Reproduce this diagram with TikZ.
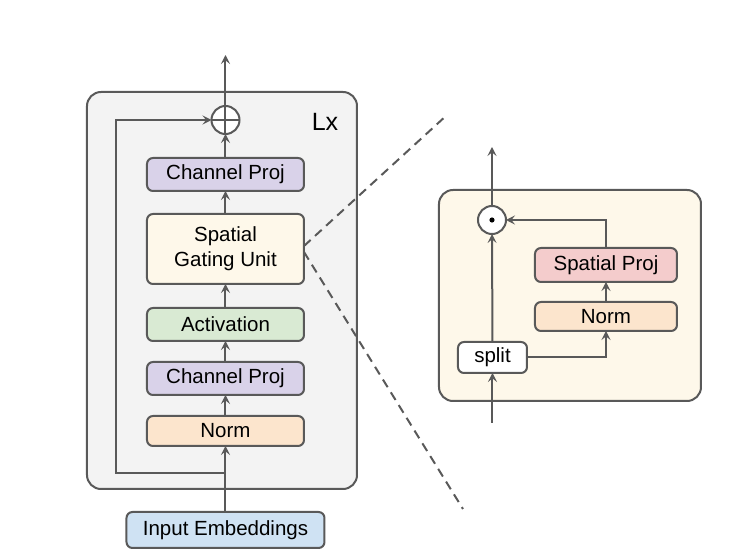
\documentclass[tikz,border=0pt]{standalone}
\usepackage{fontspec}
\setmainfont{Liberation Sans}
\usepackage{tikz}
\usetikzlibrary{arrows.meta,positioning,calc}
\definecolor{linegray}{HTML}{595959}
\definecolor{layerfill}{HTML}{F3F3F3}
\definecolor{creamfill}{HTML}{FEF8EA}
\definecolor{projpurple}{HTML}{D9D2E9}
\definecolor{actgreen}{HTML}{D9EAD3}
\definecolor{normorange}{HTML}{FCE5CD}
\definecolor{embblue}{HTML}{CFE2F3}
\definecolor{spatialred}{HTML}{F4CCCC}
\tikzset{
  block/.style={rounded corners=3pt, draw=linegray, line width=1pt, align=center, inner sep=0pt, outer sep=0pt,
    minimum width=78.5pt, minimum height=16.5pt, font=\fontsize{10.25}{12.5}\selectfont},
  container/.style={rounded corners=7pt, draw=linegray, line width=1pt, inner sep=0pt, outer sep=0pt},
  op/.style={circle, draw=linegray, line width=1pt, fill=white, minimum size=14pt, inner sep=0pt, outer sep=0pt},
  line/.style={-{Stealth[length=4.5pt,width=4.5pt,inset=1.8pt]}, line width=1pt, draw=linegray},
  zoomline/.style={line width=1pt, draw=linegray, dash pattern=on 4.5pt off 3pt}
}
\begin{document}
\begin{tikzpicture}[x=0.5pt, y=-0.5pt]
  \useasboundingbox (0,0) rectangle (736,556);

  % gMLP layer
  \node[container, fill=layerfill, minimum width=135pt, minimum height=198.5pt] (layer) at (222,290.5) {};
  \node[block, fill=normorange, minimum height=15pt] (norm) at (225.5,431) {Norm};
  \node[block, fill=projpurple, above=10.5pt of norm] (chanB) {Channel Proj};
  \node[block, fill=actgreen, above=10.5pt of chanB] (act) {Activation};
  \node[block, fill=creamfill, minimum height=35pt, above=12pt of act] (sgu) {Spatial\\Gating Unit};
  \node[block, fill=projpurple, above=11.5pt of sgu] (chanA) {Channel Proj};
  \node[op, above=12pt of chanA] (plus) {};
  \draw[linegray, line width=1pt] (plus.north) -- (plus.south) (plus.west) -- (plus.east);
  \node[block, fill=embblue, minimum width=99pt, minimum height=18pt, below=33pt of norm] (input) {Input Embeddings};
  \node[font=\fontsize{12.5}{14}\selectfont] (lx) at (325,122) {Lx};
  \coordinate (out) at (225.5,55);
  \coordinate (skip) at (225.5,473);

  \draw[line] (input) -- (norm);
  \draw[line] (norm) -- (chanB);
  \draw[line] (chanB) -- (act);
  \draw[line] (act) -- (sgu);
  \draw[line] (sgu) -- (chanA);
  \draw[line] (chanA) -- (plus);
  \draw[line] (plus) -- (out);
  \draw[line] (skip) -- ++(-109.5,0) |- (plus.west);

  % Spatial gating unit detail
  \node[container, fill=creamfill, minimum width=131pt, minimum height=105.5pt] (gate) at (570,295.5) {};
  \node[op] (odot) at (492,220) {};
  \fill[black] (odot) circle (1.3pt);
  \node[block, fill=spatialred, minimum width=71pt, minimum height=17pt] (sproj) at (606,265) {Spatial Proj};
  \node[block, fill=normorange, minimum width=71pt, minimum height=14.5pt, below=10pt of sproj] (snorm) {Norm};
  \node[block, fill=white, minimum width=34.5pt, minimum height=15.5pt] (split) at (492.5,357.5) {split};
  \coordinate (gin) at (492.5,423);
  \coordinate (gout) at (492,147);

  \draw[line] (gin) -- (split);
  \draw[line] (split) -- (odot);
  \draw[line] (split.east) -| (snorm.south);
  \draw[line] (snorm) -- (sproj);
  \draw[line] (sproj.north) |- (odot.east);
  \draw[line] (odot) -- (gout);

  % zoom lines
  \coordinate (zoomtop) at (447,115);
  \coordinate (zoombot) at (463,509);
  \draw[zoomline] ([yshift=1.5pt]sgu.east) -- (zoomtop);
  \draw[zoomline] ([yshift=-1.5pt]sgu.east) -- (zoombot);
\end{tikzpicture}
\end{document}
